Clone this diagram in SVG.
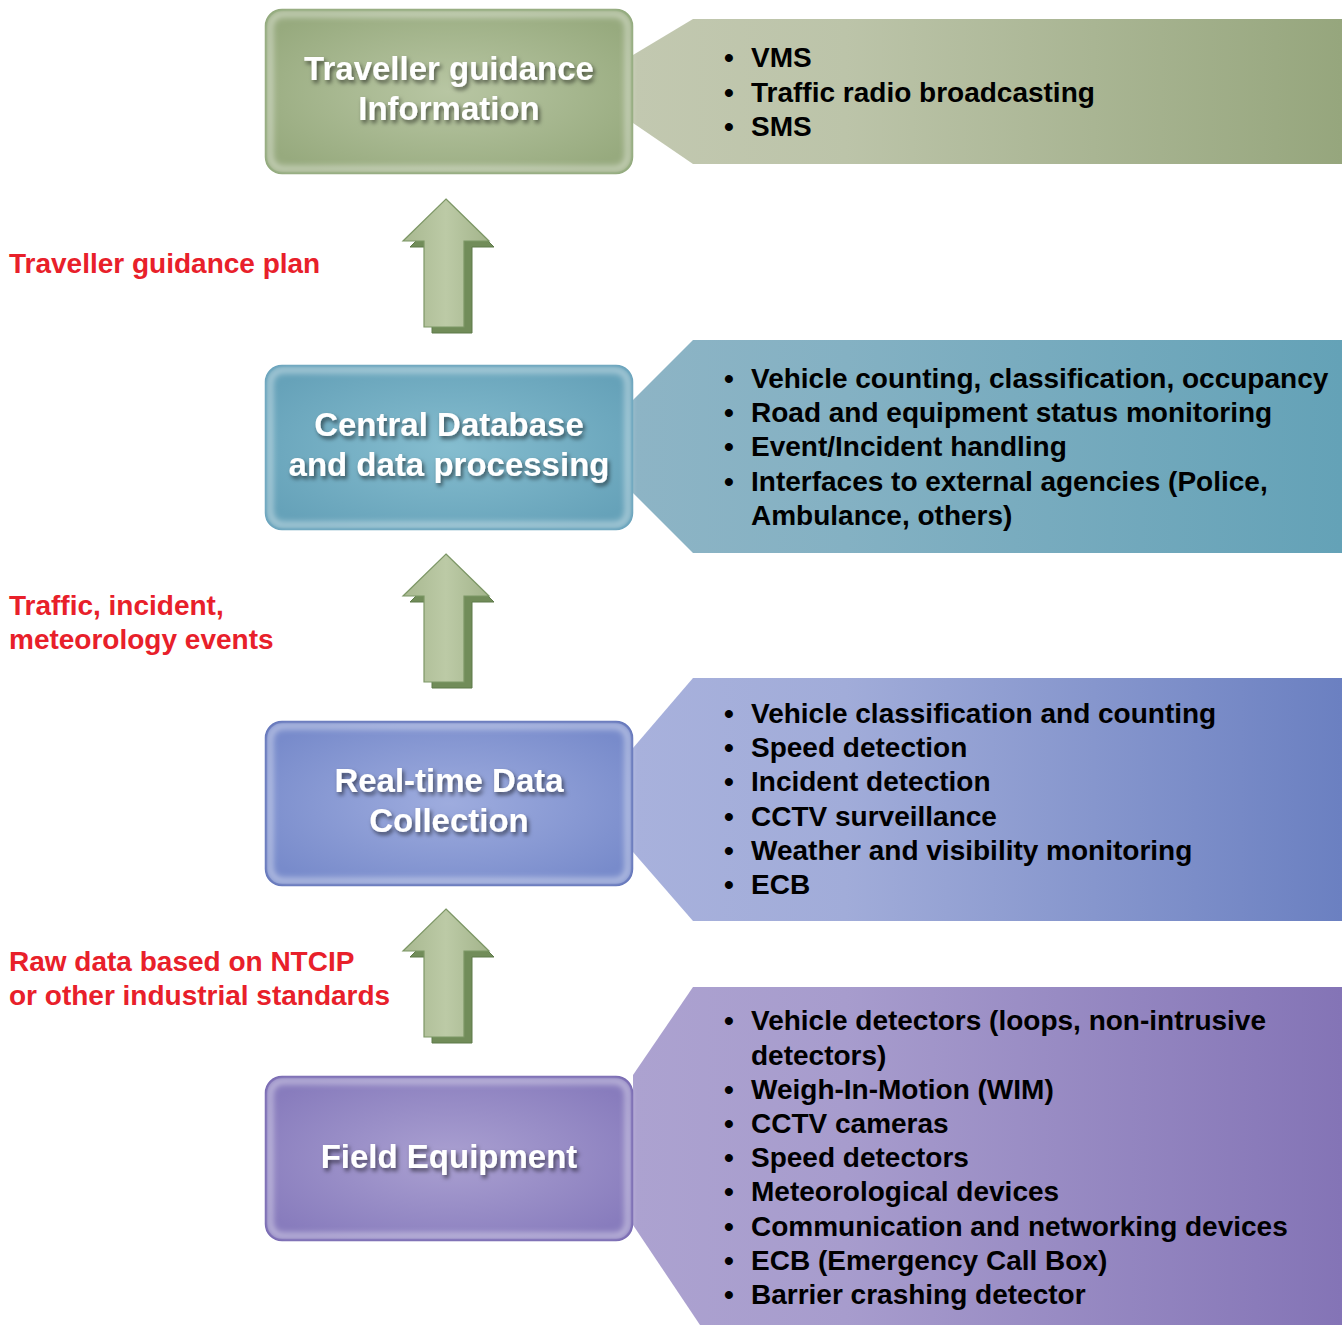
<svg xmlns="http://www.w3.org/2000/svg" width="1342" height="1325" viewBox="0 0 1342 1325">
<style>
.title{font-family:"Liberation Sans",Arial,sans-serif;font-weight:bold;font-size:33px;fill:#ffffff;text-anchor:middle;filter:url(#tshadow)}
.item{font-family:"Liberation Sans",Arial,sans-serif;font-weight:bold;font-size:28px;fill:#000000}
.red{font-family:"Liberation Sans",Arial,sans-serif;font-weight:bold;font-size:28px;fill:#e8202a}
.rim{fill:none;stroke:#ffffff;stroke-opacity:0.55;stroke-width:5;filter:url(#soft)}
</style>
<defs>
<filter id="tshadow" x="-10%" y="-30%" width="120%" height="170%">
<feDropShadow dx="2" dy="3" stdDeviation="2" flood-color="#000000" flood-opacity="0.55"/>
</filter>
<filter id="soft" x="-5%" y="-5%" width="110%" height="110%"><feGaussianBlur stdDeviation="3"/></filter>
<radialGradient id="g1" cx="0.5" cy="0.5" r="0.6"><stop offset="0" stop-color="#b8c6a3"/><stop offset="1" stop-color="#97aa7e"/></radialGradient>
<radialGradient id="g2" cx="0.5" cy="0.5" r="0.6"><stop offset="0" stop-color="#85bdcf"/><stop offset="1" stop-color="#66a2b9"/></radialGradient>
<radialGradient id="g3" cx="0.5" cy="0.5" r="0.6"><stop offset="0" stop-color="#9eacde"/><stop offset="1" stop-color="#788bcb"/></radialGradient>
<radialGradient id="g4" cx="0.5" cy="0.5" r="0.6"><stop offset="0" stop-color="#aaa0d1"/><stop offset="1" stop-color="#887cbd"/></radialGradient>
<linearGradient id="c1" x1="0" y1="0" x2="1" y2="0"><stop offset="0" stop-color="#c2c8b0"/><stop offset="0.3" stop-color="#bcc4a9"/><stop offset="1" stop-color="#96a67d"/></linearGradient>
<linearGradient id="c2" x1="0" y1="0" x2="1" y2="0"><stop offset="0" stop-color="#8db4c5"/><stop offset="0.3" stop-color="#84b1c3"/><stop offset="1" stop-color="#64a2b7"/></linearGradient>
<linearGradient id="c3" x1="0" y1="0" x2="1" y2="0"><stop offset="0" stop-color="#a8b1dc"/><stop offset="0.3" stop-color="#a1acd9"/><stop offset="1" stop-color="#6b80c1"/></linearGradient>
<linearGradient id="c4" x1="0" y1="0" x2="1" y2="0"><stop offset="0" stop-color="#aca2d0"/><stop offset="0.3" stop-color="#a79ccd"/><stop offset="1" stop-color="#8474b6"/></linearGradient>
<linearGradient id="af" x1="0" y1="0" x2="1" y2="0"><stop offset="0" stop-color="#a8b890"/><stop offset="0.5" stop-color="#bccaa6"/><stop offset="1" stop-color="#a3b48b"/></linearGradient>
<g id="arrow">
<polygon points="6,6 48,48 26,48 26,134 -14,134 -14,48 -36,48" fill="#718c59" stroke="#5f7a4a" stroke-width="1"/>
<polygon points="0,0 43,42 18,42 18,128 -22,128 -22,42 -43,42" fill="url(#af)" stroke="#7d9766" stroke-width="1.2"/>
</g>
</defs>

<g id="callouts">
<polygon id="callout1" points="693,19 1342,19 1342,164 693,164 633,123 633,55" fill="url(#c1)"/>
<polygon id="callout2" points="693,340 1342,340 1342,553 693,553 633,493 633,400" fill="url(#c2)"/>
<polygon id="callout3" points="693,678 1342,678 1342,921 693,921 633,852 633,748" fill="url(#c3)"/>
<polygon id="callout4" points="693,987 1342,987 1342,1325 700,1325 633,1225 633,1075" fill="url(#c4)"/>
</g>

<g id="node1">
<rect x="266" y="10" width="366" height="163" rx="16" fill="url(#g1)" stroke="#86a06e" stroke-width="2.5"/>
<rect class="rim" x="270" y="14" width="358" height="155" rx="13"/>
<text class="title" x="449" y="80">Traveller guidance</text>
<text class="title" x="449" y="120">Information</text>
</g>
<g id="node2">
<rect x="266" y="366" width="366" height="163" rx="16" fill="url(#g2)" stroke="#5a9ab5" stroke-width="2.5"/>
<rect class="rim" x="270" y="370" width="358" height="155" rx="13"/>
<text class="title" x="449" y="436">Central Database</text>
<text class="title" x="449" y="476">and data processing</text>
</g>
<g id="node3">
<rect x="266" y="722" width="366" height="163" rx="16" fill="url(#g3)" stroke="#5468b4" stroke-width="2.5"/>
<rect class="rim" x="270" y="726" width="358" height="155" rx="13"/>
<text class="title" x="449" y="792">Real-time Data</text>
<text class="title" x="449" y="832">Collection</text>
</g>
<g id="node4">
<rect x="266" y="1077" width="366" height="163" rx="16" fill="url(#g4)" stroke="#6a5aaa" stroke-width="2.5"/>
<rect class="rim" x="270" y="1081" width="358" height="155" rx="13"/>
<text class="title" x="449" y="1168">Field Equipment</text>
</g>

<g id="connectors">
<use href="#arrow" x="446" y="199"/>
<use href="#arrow" x="446" y="554"/>
<use href="#arrow" x="446" y="909"/>
</g>

<g id="labels">
<text class="red" x="9" y="273">Traveller guidance plan</text>
<text class="red" x="9" y="615">Traffic, incident,</text>
<text class="red" x="9" y="649">meteorology events</text>
<text class="red" x="9" y="971">Raw data based on NTCIP</text>
<text class="red" x="9" y="1005">or other industrial standards</text>
</g>

<g id="list1" class="item">
<text class="item" x="724" y="67">•</text><text class="item" x="751" y="67">VMS</text>
<text class="item" x="724" y="102">•</text><text class="item" x="751" y="102">Traffic radio broadcasting</text>
<text class="item" x="724" y="136">•</text><text class="item" x="751" y="136">SMS</text>
</g>
<g id="list2">
<text class="item" x="724" y="388">•</text><text class="item" x="751" y="388">Vehicle counting, classification, occupancy</text>
<text class="item" x="724" y="422">•</text><text class="item" x="751" y="422">Road and equipment status monitoring</text>
<text class="item" x="724" y="456">•</text><text class="item" x="751" y="456">Event/Incident handling</text>
<text class="item" x="724" y="491">•</text><text class="item" x="751" y="491">Interfaces to external agencies (Police,</text>
<text class="item" x="751" y="525">Ambulance, others)</text>
</g>
<g id="list3">
<text class="item" x="724" y="723">•</text><text class="item" x="751" y="723">Vehicle classification and counting</text>
<text class="item" x="724" y="757">•</text><text class="item" x="751" y="757">Speed detection</text>
<text class="item" x="724" y="791">•</text><text class="item" x="751" y="791">Incident detection</text>
<text class="item" x="724" y="826">•</text><text class="item" x="751" y="826">CCTV surveillance</text>
<text class="item" x="724" y="860">•</text><text class="item" x="751" y="860">Weather and visibility monitoring</text>
<text class="item" x="724" y="894">•</text><text class="item" x="751" y="894">ECB</text>
</g>
<g id="list4">
<text class="item" x="724" y="1030">•</text><text class="item" x="751" y="1030">Vehicle detectors (loops, non-intrusive</text>
<text class="item" x="751" y="1065">detectors)</text>
<text class="item" x="724" y="1099">•</text><text class="item" x="751" y="1099">Weigh-In-Motion (WIM)</text>
<text class="item" x="724" y="1133">•</text><text class="item" x="751" y="1133">CCTV cameras</text>
<text class="item" x="724" y="1167">•</text><text class="item" x="751" y="1167">Speed detectors</text>
<text class="item" x="724" y="1201">•</text><text class="item" x="751" y="1201">Meteorological devices</text>
<text class="item" x="724" y="1236">•</text><text class="item" x="751" y="1236">Communication and networking devices</text>
<text class="item" x="724" y="1270">•</text><text class="item" x="751" y="1270">ECB (Emergency Call Box)</text>
<text class="item" x="724" y="1304">•</text><text class="item" x="751" y="1304">Barrier crashing detector</text>
</g>
</svg>
